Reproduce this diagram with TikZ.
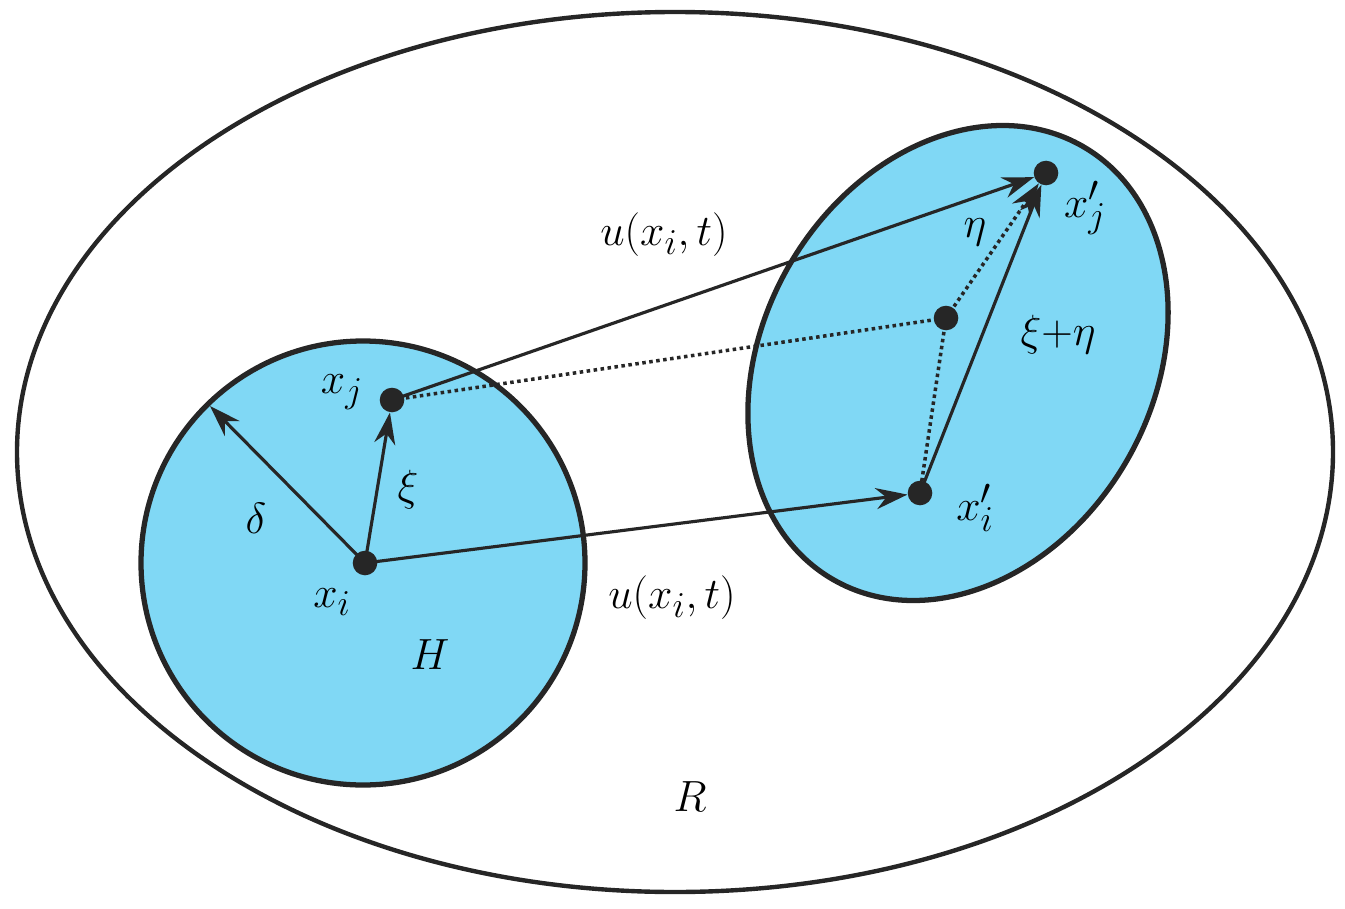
\documentclass[tikz,border=0pt]{standalone}
\usetikzlibrary{arrows.meta}
\definecolor{blu}{RGB}{128,216,245}
\begin{document}
\begin{tikzpicture}[x=0.02cm,y=-0.02cm,
  bd/.style={line width=3pt,draw=black!85},
  ar/.style={line width=1.8pt,draw=black!85,-{Stealth[length=18pt,width=12pt]}},
  dt/.style={line width=2pt,dotted,draw=black!85},
  pt/.style={circle,fill=black!85,inner sep=0pt,minimum size=14pt},
  lb/.style={font=\fontsize{30}{34}\selectfont}]
\useasboundingbox (0,0) rectangle (1345,909);
\draw[line width=2.5pt,draw=black!85] (675,452) ellipse [x radius=658, y radius=440];
\draw[bd,fill=blu] (363,563) circle [radius=222];
\draw[bd,fill=blu,rotate around={60:(958,363)}] (958,363) ellipse [x radius=250, y radius=195];
\node[pt] (xi) at (365,563) {};
\node[pt] (xj) at (392,400) {};
\node[pt] (xip) at (920,493) {};
\node[pt] (xjp) at (1046,173) {};
\node[pt] (m) at (946,318) {};
\coordinate (d) at (210,406);
\draw[ar] (xi.center) -- (d);
\draw[ar] (xi.center) -- (xj);
\draw[ar] (xi.center) -- (xip);
\draw[ar] (xj.center) -- (xjp);
\draw[ar] (xip.center) -- (xjp);
\draw[dt] (xj.center) -- (m.center);
\draw[dt] (m.center) -- (xip.center);
\draw[dt,-{Stealth[length=18pt,width=12pt]}] (m.center) -- (xjp);
\node[lb] (lxj) at (342,392) {$x_j$};
\node[lb] (lxi) at (332,602) {$x_i$};
\node[lb] (lxi2) at (408,490) {$\xi$};
\node[lb] (ld) at (256,518) {$\delta$};
\node[lb] (lH) at (430,655) {$H$};
\node[lb] (lu1) at (672,598) {$u(x_i,t)$};
\node[lb] (lu2) at (664,235) {$u(x_i,t)$};
\node[lb] (leta) at (975,232) {$\eta$};
\node[lb] (lxjp) at (1085,208) {$x'_j$};
\node[lb] (lxe) at (1058,335) {$\xi{+}\eta$};
\node[lb] (lxip) at (975,508) {$x'_i$};
\node[lb] (lR) at (690,797) {$R$};
\end{tikzpicture}
\end{document}
